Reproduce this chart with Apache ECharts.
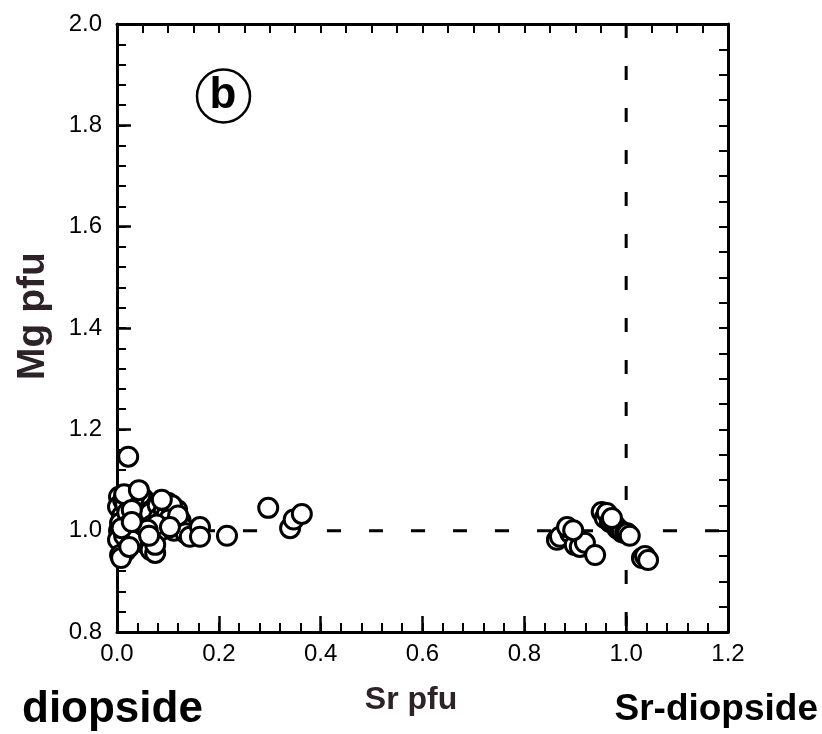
<!DOCTYPE html>
<html>
<head>
<meta charset="utf-8">
<script src="https://cdn.jsdelivr.net/npm/echarts@6/dist/echarts.min.js"></script>
<style>html,body{margin:0;padding:0;background:#fff}#c{width:822px;height:734px}</style>
</head>
<body>
<div id="c"></div>
<script>
// Tick labels
const xTickLabels = ['0.0','0.2','0.4','0.6','0.8','1.0','1.2'];
const yTickLabels = ['0.8','1.0','1.2','1.4','1.6','1.8','2.0'];

// Diopside-side analyses (Sr pfu, Mg pfu)
const diopsideSr = [0.004,0.002,0.004,0.002,0.118,0.110,0.071,0.059,0.012,0.010,0.006,0.014,0.016,0.020,0.018,0.035,0.040,0.037,0.047,0.050,0.053,0.045,0.065,0.068,0.080,0.082,0.085,0.092,0.097,0.100,0.096,0.108,0.112,0.125,0.130,0.135,0.055,0.066,0.030,0.017,0.102,0.078,0.060,0.046,0.026,0.033,0.014,0.009,0.120,0.006,0.008,0.075,0.075,0.297,0.340,0.347,0.363,0.022,0.043,0.088,0.029,0.029,0.104,0.063,0.143,0.163,0.163,0.216,0.024];
const diopsideMg = [1.067,1.047,1.000,0.982,1.041,1.021,1.047,1.027,1.060,1.030,1.015,0.990,1.052,1.036,1.008,1.058,1.030,1.000,1.045,1.015,1.062,0.985,1.035,1.010,1.050,1.025,1.000,1.040,1.030,1.055,1.015,1.050,1.000,1.020,1.005,0.995,0.975,0.962,0.980,0.960,1.022,1.012,1.002,1.070,1.070,1.064,1.072,1.005,1.030,0.952,0.946,0.956,0.972,1.045,1.005,1.022,1.033,1.146,1.080,1.061,1.041,1.017,1.007,0.990,0.988,1.007,0.988,0.990,0.968];

// Sr-diopside-side analyses
const srDiopsideSr = [0.864,0.870,0.890,0.899,0.909,0.919,0.952,0.958,0.962,0.968,0.974,0.978,0.982,0.988,0.992,0.998,1.002,1.031,1.037,0.884,0.896,0.939,0.972,1.007,1.043];
const srDiopsideMg = [0.982,0.988,0.995,0.972,0.968,0.976,1.037,1.025,1.035,1.017,1.015,1.011,1.005,1.001,0.997,0.995,0.995,0.946,0.950,1.007,1.001,0.952,1.025,0.990,0.942];

// Reference lines (end-member compositions)
const refLineH = [[0,1.0],[1.2,1.0]];
const refLineV = [[1.0,2.0],[1.0,0.8]];

const pts = [];
diopsideSr.forEach((v,i)=>pts.push([v, diopsideMg[i]]));
srDiopsideSr.forEach((v,i)=>pts.push([v, srDiopsideMg[i]]));

const FONT = 'Liberation Sans, Arial, Helvetica, sans-serif';
const TITLE_COL = '#2d2228';
const GRID = {left:117, top:24, right:94, bottom:102};

function minorAxis(extra){
  return Object.assign({
    type:'value', splitLine:{show:false}, axisLabel:{show:false},
    axisLine:{show:false, onZero:false},
    axisTick:{show:true, inside:true, length:9, lineStyle:{color:'#000', width:2}}
  }, extra);
}

const chart = echarts.init(document.getElementById('c'), null, {renderer:'canvas'});
chart.setOption({
  animation:false,
  backgroundColor:'#fff',
  grid:[Object.assign({}, GRID), Object.assign({}, GRID)],
  xAxis:[
    {type:'value', gridIndex:0, min:0, max:1.2, interval:0.2, position:'bottom', splitLine:{show:false},
      axisLine:{show:true, onZero:false, lineStyle:{color:'#000', width:3}},
      axisTick:{show:true, inside:true, length:16, lineStyle:{color:'#000', width:2.5}},
      axisLabel:{margin:10, fontSize:24, color:'#000', fontFamily:FONT,
        formatter:(v)=>xTickLabels[Math.round(v/0.2)]}},
    {type:'value', gridIndex:0, min:0, max:1.2, interval:0.2, position:'top', splitLine:{show:false},
      axisLine:{show:true, onZero:false, lineStyle:{color:'#000', width:3}},
      axisTick:{show:true, inside:true, length:9, lineStyle:{color:'#000', width:2}},
      axisLabel:{show:false}},
    minorAxis({gridIndex:1, min:0, max:1.2, interval:0.04, position:'bottom'}),
    minorAxis({gridIndex:1, min:0, max:1.2, interval:0.05, position:'top'})
  ],
  yAxis:[
    {type:'value', gridIndex:0, min:0.8, max:2.0, interval:0.2, position:'left', splitLine:{show:false},
      axisLine:{show:true, onZero:false, lineStyle:{color:'#000', width:3}},
      axisTick:{show:true, inside:true, length:14, lineStyle:{color:'#000', width:2.5}},
      axisLabel:{margin:15, fontSize:24, color:'#000', fontFamily:FONT,
        formatter:(v)=>yTickLabels[Math.round((v-0.8)/0.2)]}},
    {type:'value', gridIndex:0, min:0.8, max:2.0, interval:0.2, position:'right', splitLine:{show:false},
      axisLine:{show:true, onZero:false, lineStyle:{color:'#000', width:3}},
      axisTick:{show:true, inside:true, length:9, lineStyle:{color:'#000', width:2}},
      axisLabel:{show:false}},
    minorAxis({gridIndex:1, min:0.8, max:2.0, interval:0.04, position:'left'}),
    minorAxis({gridIndex:1, min:0.8, max:2.0, interval:0.05, position:'right'})
  ],
  series:[
    {type:'line', xAxisIndex:0, yAxisIndex:0, data:refLineH, symbol:'none', silent:true, z:1,
      lineStyle:{color:'#000', width:3, type:[14,28]}},
    {type:'line', xAxisIndex:0, yAxisIndex:0, data:refLineV, symbol:'none', silent:true, z:1,
      lineStyle:{color:'#000', width:3, type:[14,28]}},
    {type:'scatter', xAxisIndex:0, yAxisIndex:0, data:pts, symbol:'circle', symbolSize:19, z:3,
      itemStyle:{color:'#fff', borderColor:'#000', borderWidth:3, opacity:1}}
  ],
  graphic:[
    {type:'circle', shape:{cx:223.5, cy:96, r:26.5}, style:{fill:'#fff', stroke:'#000', lineWidth:2.5}, z:10},
    {type:'text', x:223, y:96, z:11, style:{text:'b', font:'bold 44px '+FONT, fill:'#000', align:'center', verticalAlign:'middle'}},
    {type:'text', x:33, y:316, rotation:Math.PI/2, z:11, style:{text:'Mg pfu', font:'bold 39px '+FONT, fill:TITLE_COL, align:'center', verticalAlign:'middle'}},
    {type:'text', x:411, y:700, z:11, style:{text:'Sr pfu', font:'bold 32px '+FONT, fill:TITLE_COL, align:'center', verticalAlign:'middle'}},
    {type:'text', x:22, y:710, z:11, style:{text:'diopside', font:'bold 44px '+FONT, fill:'#000', align:'left', verticalAlign:'middle'}},
    {type:'text', x:818, y:710, z:11, style:{text:'Sr-diopside', font:'bold 37px '+FONT, fill:'#000', align:'right', verticalAlign:'middle'}}
  ]
});
</script>
</body>
</html>
